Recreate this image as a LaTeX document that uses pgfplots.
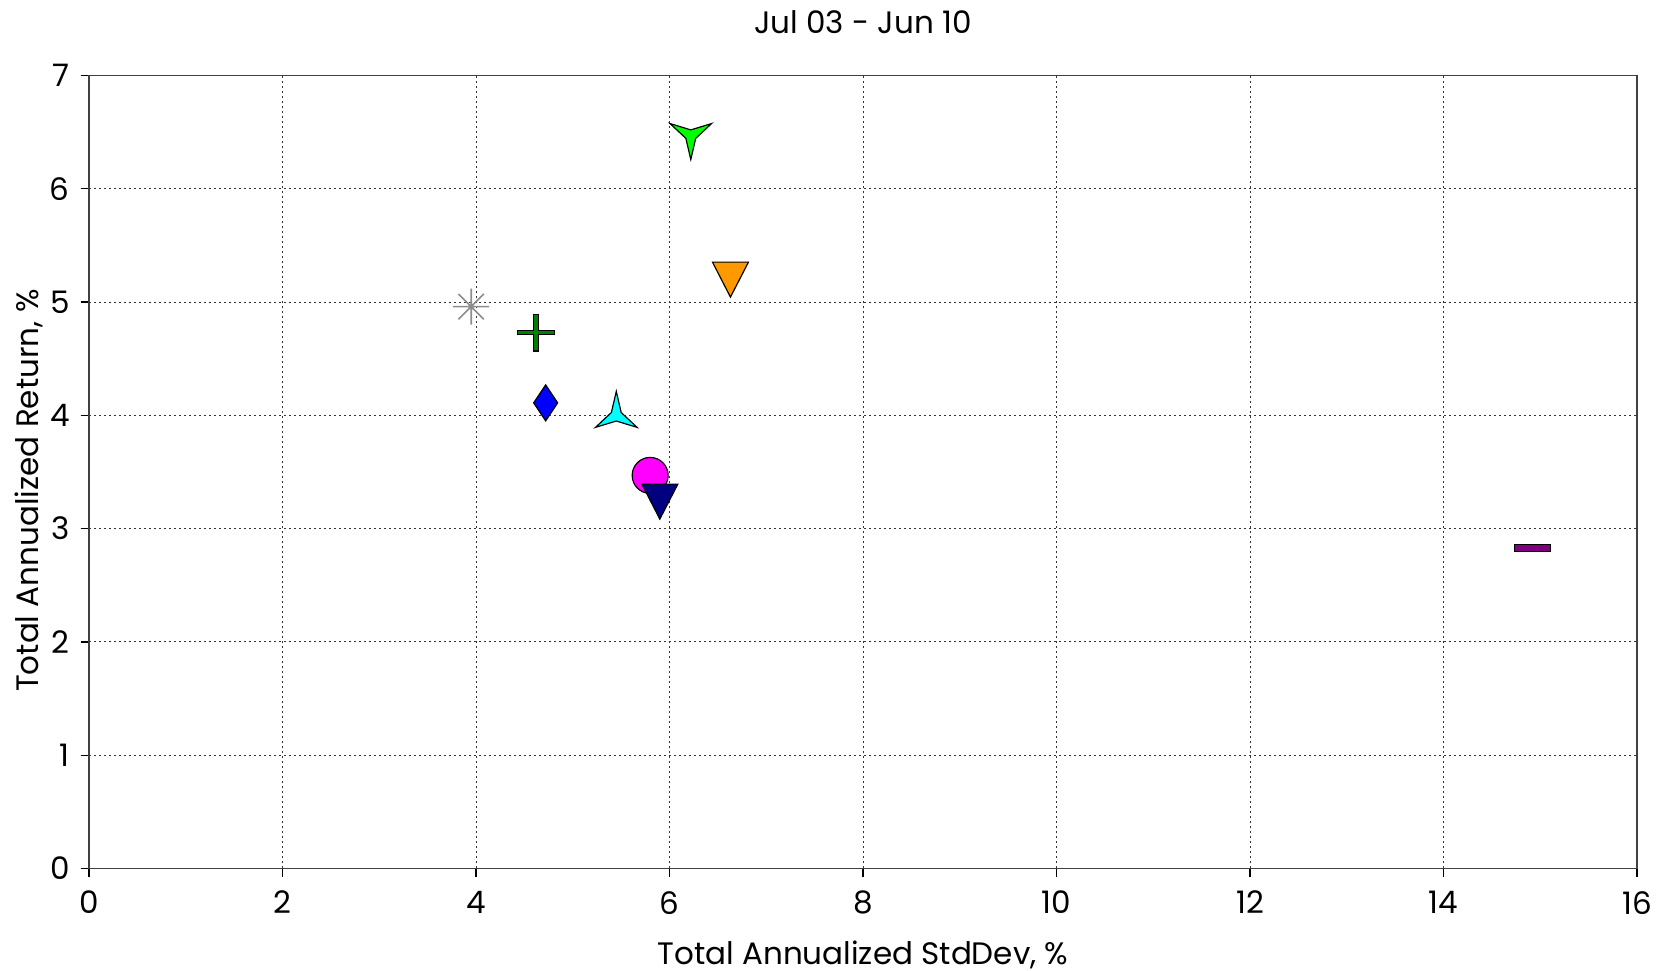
\documentclass[border=0pt]{standalone}
\usepackage{fontspec}
\setmainfont{Poppins}
\usepackage{pgfplots}
\pgfplotsset{compat=1.18}

\definecolor{cLime}{RGB}{0,255,0}
\definecolor{cOrange}{RGB}{255,153,0}
\definecolor{cCyan}{RGB}{0,255,255}
\definecolor{cMag}{RGB}{255,0,255}
\definecolor{cNavy}{RGB}{0,0,128}
\definecolor{cBlue}{RGB}{0,0,255}
\definecolor{cGreen}{RGB}{0,128,0}
\definecolor{cPurple}{RGB}{128,0,128}
\definecolor{cGray}{RGB}{140,140,140}

\pgfdeclareplotmark{tristardown}{%
 \pgfpathmoveto{\pgfqpointpolar{-90}{7.2pt}}%
 \pgfpathlineto{\pgfqpointpolar{-30}{1.7pt}}%
 \pgfpathlineto{\pgfqpointpolar{30}{7.2pt}}%
 \pgfpathlineto{\pgfqpointpolar{90}{1.7pt}}%
 \pgfpathlineto{\pgfqpointpolar{150}{7.2pt}}%
 \pgfpathlineto{\pgfqpointpolar{210}{1.7pt}}%
 \pgfpathclose\pgfusepathqfillstroke}
\pgfdeclareplotmark{tristarup}{%
 \pgfpathmoveto{\pgfqpointpolar{90}{7.2pt}}%
 \pgfpathlineto{\pgfqpointpolar{30}{1.7pt}}%
 \pgfpathlineto{\pgfqpointpolar{-30}{7.2pt}}%
 \pgfpathlineto{\pgfqpointpolar{-90}{1.7pt}}%
 \pgfpathlineto{\pgfqpointpolar{210}{7.2pt}}%
 \pgfpathlineto{\pgfqpointpolar{150}{1.7pt}}%
 \pgfpathclose\pgfusepathqfillstroke}
\pgfdeclareplotmark{tridown}{%
 \pgfpathmoveto{\pgfqpoint{-5.4pt}{3.5pt}}%
 \pgfpathlineto{\pgfqpoint{5.4pt}{3.5pt}}%
 \pgfpathlineto{\pgfqpoint{0pt}{-7.0pt}}%
 \pgfpathclose\pgfusepathqfillstroke}
\pgfdeclareplotmark{fatplus}{%
 \pgfpathmoveto{\pgfqpoint{-0.65pt}{5.5pt}}%
 \pgfpathlineto{\pgfqpoint{0.65pt}{5.5pt}}%
 \pgfpathlineto{\pgfqpoint{0.65pt}{0.65pt}}%
 \pgfpathlineto{\pgfqpoint{5.5pt}{0.65pt}}%
 \pgfpathlineto{\pgfqpoint{5.5pt}{-0.65pt}}%
 \pgfpathlineto{\pgfqpoint{0.65pt}{-0.65pt}}%
 \pgfpathlineto{\pgfqpoint{0.65pt}{-5.5pt}}%
 \pgfpathlineto{\pgfqpoint{-0.65pt}{-5.5pt}}%
 \pgfpathlineto{\pgfqpoint{-0.65pt}{-0.65pt}}%
 \pgfpathlineto{\pgfqpoint{-5.5pt}{-0.65pt}}%
 \pgfpathlineto{\pgfqpoint{-5.5pt}{0.65pt}}%
 \pgfpathlineto{\pgfqpoint{-0.65pt}{0.65pt}}%
 \pgfpathclose\pgfusepathqfillstroke}
\pgfdeclareplotmark{tdiamond}{%
 \pgfpathmoveto{\pgfqpoint{0pt}{5.4pt}}%
 \pgfpathlineto{\pgfqpoint{3.6pt}{0pt}}%
 \pgfpathlineto{\pgfqpoint{0pt}{-5.4pt}}%
 \pgfpathlineto{\pgfqpoint{-3.6pt}{0pt}}%
 \pgfpathclose\pgfusepathqfillstroke}
\pgfdeclareplotmark{bigcirc}{%
 \pgfpathcircle{\pgfpointorigin}{5.4pt}\pgfusepathqfillstroke}
\pgfdeclareplotmark{dash}{%
 \pgfpathrectangle{\pgfqpoint{-5.5pt}{-1.05pt}}{\pgfqpoint{11pt}{2.1pt}}\pgfusepathqfillstroke}
\pgfdeclareplotmark{star8}{%
 \pgfpathmoveto{\pgfqpointpolar{0}{5.4pt}}\pgfpathlineto{\pgfqpointpolar{180}{5.4pt}}%
 \pgfpathmoveto{\pgfqpointpolar{45}{5.4pt}}\pgfpathlineto{\pgfqpointpolar{225}{5.4pt}}%
 \pgfpathmoveto{\pgfqpointpolar{90}{5.4pt}}\pgfpathlineto{\pgfqpointpolar{270}{5.4pt}}%
 \pgfpathmoveto{\pgfqpointpolar{135}{5.4pt}}\pgfpathlineto{\pgfqpointpolar{315}{5.4pt}}%
 \pgfusepathqstroke}

\begin{document}
\fontsize{9.3}{11}\selectfont
\begin{tikzpicture}
\begin{axis}[
  scale only axis,
  width=464.4pt, height=237.9pt,
  at={(0,0)}, anchor=south west,
  xmin=0, xmax=16, ymin=0, ymax=7,
  xtick={0,2,...,16}, ytick={0,1,...,7},
  tick pos=left, tick align=outside, major tick length=2.5pt,
  tick style={black, line width=0.4pt},
  grid=major,
  major grid style={black!80, line width=0.3pt, dash pattern=on 0.6pt off 0.9pt},
  axis line style={black!75, line width=0.5pt},
  /pgf/number format/assume math mode=true,
  tick label style={font=\fontsize{9.3}{11}\selectfont},
  x tick label style={yshift=-1pt},
  xlabel={Total Annualized StdDev, \%},
  ylabel={Total Annualized Return, \%},
  title={Jul 03 - Jun 10},
  xlabel style={at={(rel axis cs:0.5,0)}, anchor=base, yshift=-28.8pt, font=\fontsize{9.3}{11}\selectfont},
  ylabel style={at={(rel axis cs:-0.03295,0.4765)}, anchor=base, font=\fontsize{9.3}{11}\selectfont},
  title style={at={(rel axis cs:0.5,1)}, anchor=base, yshift=6.7pt, font=\fontsize{9.3}{11}\selectfont},
  clip=false,
]
\addplot[only marks, mark=tristardown, mark options={fill=cLime, draw=black, line width=0.35pt}] coordinates {(6.22,6.47)};
\addplot[only marks, mark=tridown, mark options={fill=cOrange, draw=black, line width=0.35pt}] coordinates {(6.63,5.25)};
\addplot[only marks, mark=star8, mark options={draw=cGray, line width=0.5pt}] coordinates {(3.95,4.96)};
\addplot[only marks, mark=fatplus, mark options={fill=cGreen, draw=black, line width=0.35pt}] coordinates {(4.62,4.73)};
\addplot[only marks, mark=tdiamond, mark options={fill=cBlue, draw=black, line width=0.35pt}] coordinates {(4.72,4.11)};
\addplot[only marks, mark=tristarup, mark options={fill=cCyan, draw=black, line width=0.35pt}] coordinates {(5.45,4.00)};
\addplot[only marks, mark=bigcirc, mark options={fill=cMag, draw=black, line width=0.35pt}] coordinates {(5.80,3.47)};
\addplot[only marks, mark=tridown, mark options={fill=cNavy, draw=black, line width=0.35pt}] coordinates {(5.90,3.29)};
\addplot[only marks, mark=dash, mark options={fill=cPurple, draw=black, line width=0.35pt}] coordinates {(14.92,2.83)};
\end{axis}
\pgfresetboundingbox
\path (-26.7pt,-30.72pt) rectangle (473.4pt,260.55pt);
\end{tikzpicture}
\end{document}
